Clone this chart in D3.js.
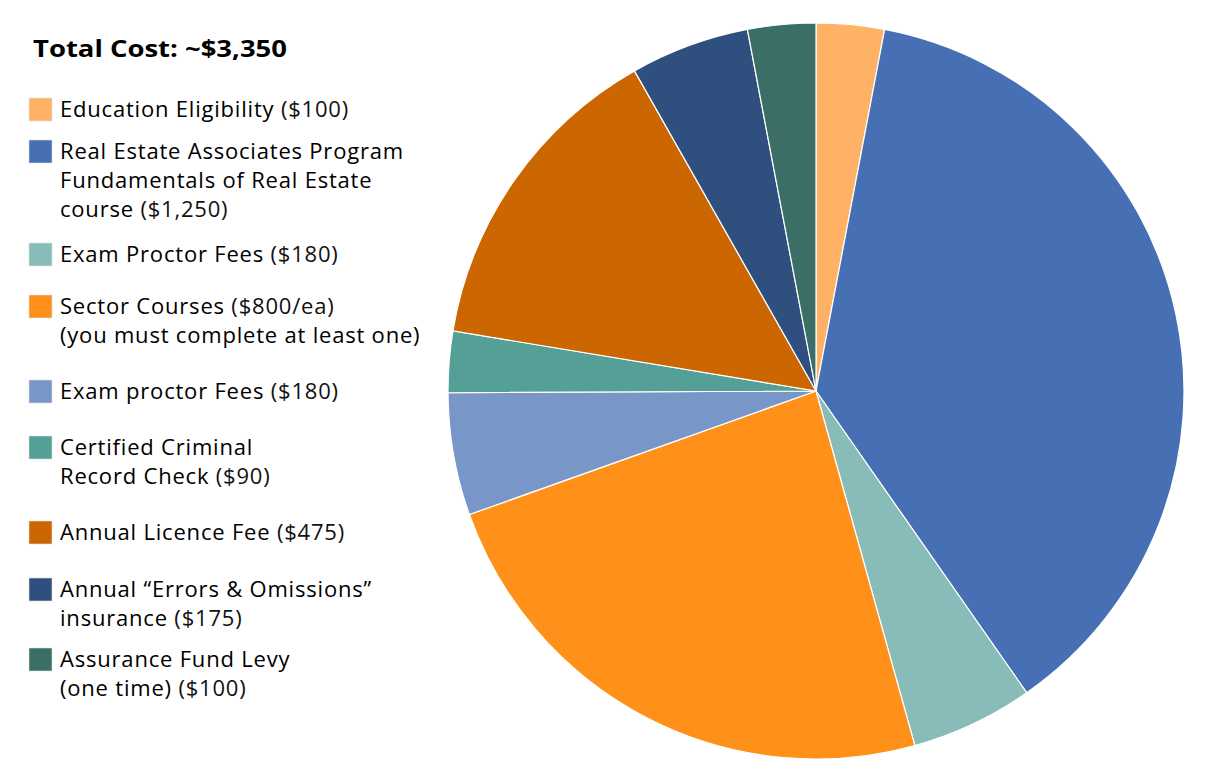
<!DOCTYPE html>
<html><head><meta charset="utf-8">
<script src="https://cdn.jsdelivr.net/npm/d3@7"></script>
<style>
html,body{margin:0;padding:0;background:#fff;}
svg{display:block;font-family:"Open Sans", "Noto Sans", sans-serif;}
</style></head>
<body>
<svg id="chart" width="1210" height="775"></svg>
<script>
const titleText = "Total Cost: ~$3,350";
const names = [
  ["Education Eligibility"],
  ["Real Estate Associates Program", "Fundamentals of Real Estate", "course"],
  ["Exam Proctor Fees"],
  ["Sector Courses"],
  ["Exam proctor Fees"],
  ["Certified Criminal", "Record Check"],
  ["Annual Licence Fee"],
  ["Annual \u201CErrors & Omissions\u201D", "insurance"],
  ["Assurance Fund Levy", "(one time)"]
];
const priceLabels = ["($100)", "($1,250)", "($180)", "($800/ea)", "($180)", "($90)", "($475)", "($175)", "($100)"];
const extraLines = [null, null, null, "(you must complete at least one)", null, null, null, null, null];
const values = [100, 1250, 180, 800, 180, 90, 475, 175, 100];
const colors = ["#FFB266", "#466FB4", "#88BCB8", "#FF9019", "#7896C8", "#55A096", "#CC6600", "#2F4F7E", "#3A6E66"];
const legendY = [109, 151, 254, 306, 391, 447, 532, 589, 659];

const svg = d3.select("#chart");

// Pie
const cx = 816, cy = 391, r = 368;
const pie = d3.pie().sort(null).value(d => d)(values);
const arc = d3.arc().innerRadius(0).outerRadius(r);
svg.append("g").attr("transform", `translate(${cx},${cy})`)
  .selectAll("path").data(pie).join("path")
  .attr("d", arc)
  .attr("fill", (d, i) => colors[i])
  .attr("stroke", "#fff").attr("stroke-width", 1.2);

// Title
const title = svg.append("text").attr("x", 33).attr("y", 57)
  .attr("font-size", 24).attr("font-weight", 700).attr("fill", "#000")
  .text(titleText);
const tw = title.node().getComputedTextLength();
if (Math.abs(tw - 254) > 4) title.attr("textLength", 254).attr("lengthAdjust", "spacingAndGlyphs");

// Legend
const lineH = 29;
const fs = 22;
const lg = svg.append("g");
names.forEach((lines, i) => {
  const y0 = legendY[i];
  lg.append("rect").attr("x", 29).attr("y", y0 - 11).attr("width", 23).attr("height", 23)
    .attr("fill", colors[i]).attr("stroke", "#e0e0e0").attr("stroke-width", 0.6);
  const t = lg.append("text").attr("font-size", fs).attr("fill", "#000")
    .attr("font-weight", 500).attr("letter-spacing", 0.8);
  lines.forEach((ln, j) => {
    t.append("tspan").attr("x", 60).attr("y", y0 + 8 + j * lineH).text(ln);
    if (j === lines.length - 1) {
      t.append("tspan").attr("font-weight", 400).attr("fill", "#111").text(" " + priceLabels[i]);
    }
  });
  if (extraLines[i]) {
    t.append("tspan").attr("x", 60).attr("y", y0 + 8 + lines.length * lineH).text(extraLines[i]);
  }
});
</script>
</body></html>
